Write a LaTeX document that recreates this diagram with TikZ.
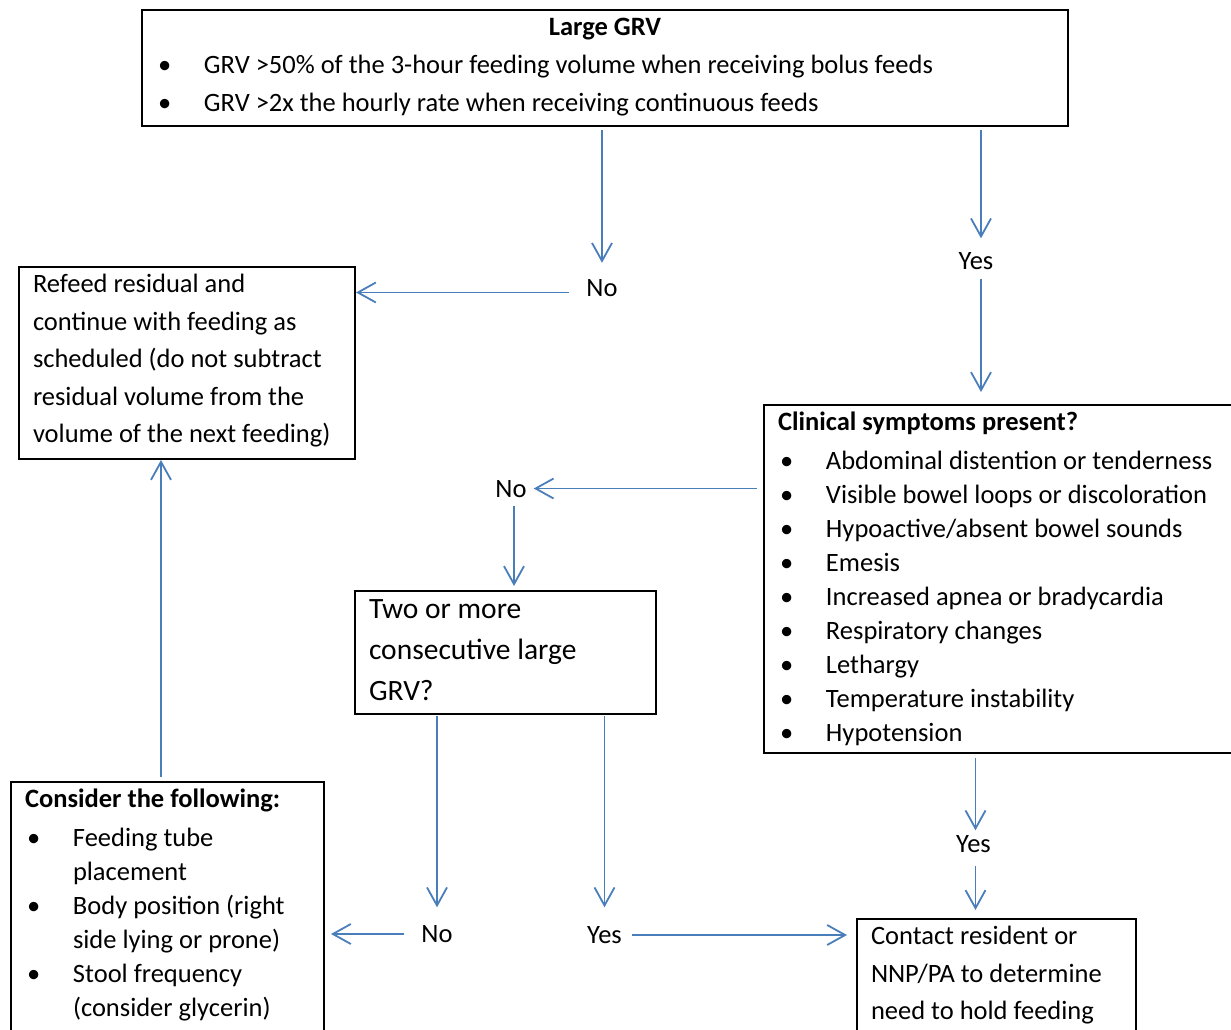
\documentclass[tikz,border=0pt]{standalone}
\usepackage{fontspec}
\setmainfont{Carlito}
\usetikzlibrary{arrows.meta, positioning}
\definecolor{flowblue}{RGB}{74,126,187}

\newcommand{\boxtext}[3]{\parbox[t][#2][t]{#1}{\raggedright\rule{0pt}{25.5pt}#3}}
\newcommand{\bitem}{\makebox[48pt][l]{\hspace{2pt}\textbullet}}
\newcommand{\bcont}{\hspace*{48pt}}

\begin{document}
\begin{tikzpicture}[x=1pt,y=-1pt]
  \tikzstyle{box}=[draw,line width=2pt,anchor=north west,inner xsep=14pt,inner ysep=0pt]
  \tikzstyle{lbl}=[inner sep=0pt,text height=17pt,text depth=0pt,font=\fontsize{26.5}{32}\selectfont]
  \tikzstyle{flow}=[draw=flowblue,line width=1.8pt,-{Straight Barb[length=18pt,width=20pt]}]

  \useasboundingbox (0,0) rectangle (1231,1030);
  \clip (0,0) rectangle (1231,1030);

  \node[box,font=\fontsize{26.5}{38}\selectfont] (grv) at (141,9)
    {\boxtext{898pt}{116pt}{\makebox[\linewidth]{\textbf{Large GRV}}\\
      \bitem GRV >50\% of the 3-hour feeding volume when receiving bolus feeds\\
      \bitem GRV >2x the hourly rate when receiving continuous feeds}};

  \node[box,font=\fontsize{26.5}{37.5}\selectfont] (refeed) at (18,266)
    {\boxtext{308pt}{192pt}{Refeed residual and\\ continue with feeding as\\
      scheduled (do not subtract\\ residual volume from the\\ volume of the next feeding)}};

  \node[box,font=\fontsize{26.5}{34}\selectfont] (clinical) at (763,404)
    {\boxtext{472pt}{348pt}{\textbf{Clinical symptoms present?}\\[5pt]
      \bitem Abdominal distention or tenderness\\
      \bitem Visible bowel loops or discoloration\\
      \bitem Hypoactive/absent bowel sounds\\
      \bitem Emesis\\
      \bitem Increased apnea or bradycardia\\
      \bitem Respiratory changes\\
      \bitem Lethargy\\
      \bitem Temperature instability\\
      \bitem Hypotension}};

  \node[box,font=\fontsize{29.5}{41}\selectfont] (twice) at (354,590)
    {\boxtext{273pt}{123pt}{\rule{0pt}{27pt}Two or more\\ consecutive large\\ GRV?}};

  \node[box,font=\fontsize{26.5}{34}\selectfont] (consider) at (10,781)
    {\boxtext{285pt}{300pt}{\textbf{Consider the following:}\\[5pt]
      \bitem Feeding tube\\ \bcont placement\\
      \bitem Body position (right\\ \bcont side lying or prone)\\
      \bitem Stool frequency\\ \bcont (consider glycerin)}};

  \node[box,font=\fontsize{26.5}{37.5}\selectfont] (contact) at (856,918)
    {\boxtext{251pt}{150pt}{Contact resident or\\ NNP/PA to determine\\ need to hold feeding}};

  \node[lbl] (no1)  at (602,287.5) {No};
  \node[lbl] (yes1) at (976,261)   {Yes};
  \node[lbl] (no2)  at (511,488.5) {No};
  \node[lbl] (yes2) at (973.5,844) {Yes};
  \node[lbl] (no3)  at (437,934)   {No};
  \node[lbl] (yes3) at (604.5,935) {Yes};

  \draw[flow,shorten <=3pt,shorten >=16pt] (grv.south -| no1) -- (no1.north);
  \draw[flow,shorten <=17pt] ([yshift=-5pt]no1.west) -- ([yshift=-5pt]no1.west -| refeed.east);
  \draw[flow,shorten <=3pt,shorten >=14pt] ([xshift=5pt]grv.south -| yes1) -- ([xshift=5pt]yes1.north);
  \draw[flow,shorten <=9pt,shorten >=12pt] ([xshift=5pt]yes1.south) -- ([xshift=5pt]yes1.south |- clinical.north);
  \draw[flow,shorten <=6pt,shorten >=7pt] (no2.east -| clinical.west) -- (no2.east);
  \draw[flow,shorten <=9pt,shorten >=4pt] ([xshift=3pt]no2.south) -- ([xshift=3pt]no2.south |- twice.north);
  \draw[flow,shorten <=1pt,shorten >=18pt] (twice.south -| no3) -- (no3.north);
  \draw[flow,shorten <=1pt,shorten >=19pt] (twice.south -| yes3) -- (yes3.north);
  \draw[flow,shorten <=17pt,shorten >=6pt] (no3.west) -- (no3.west -| consider.east);
  \draw[flow,shorten <=10pt,shorten >=9pt] (yes3.east) -- (yes3.east -| contact.west);
  \draw[flow,shorten <=4pt,shorten >=5pt] ([xshift=2pt]clinical.south -| yes2) -- ([xshift=2pt]yes2.north);
  \draw[flow,shorten <=13pt,shorten >=8pt] ([xshift=2pt]yes2.south) -- ([xshift=2pt]yes2.south |- contact.north);
  \draw[flow,shorten <=4pt] ([xshift=-6.5pt]consider.north) -- ([xshift=-6.5pt]consider.north |- refeed.south);
\end{tikzpicture}
\end{document}
